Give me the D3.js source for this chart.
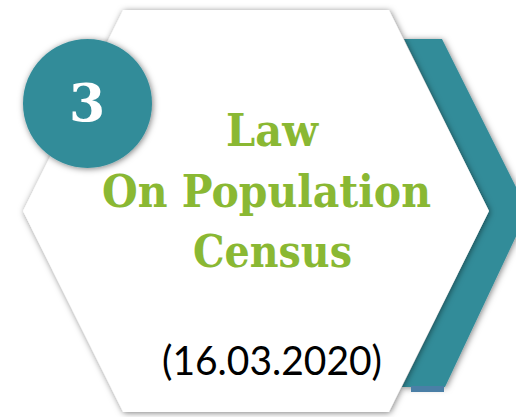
<!DOCTYPE html>
<html lang="en">
<head>
<meta charset="UTF-8" />
<title>Law On Population Census</title>
<style>
  * { margin:0; padding:0; box-sizing:border-box; }
  body { background:#fff; width:516px; height:417px; overflow:hidden; }
  svg { display:block; }
</style>
</head>
<body>
<script src="https://d3js.org/d3.v7.min.js"></script>
<script>
  // content of the card
  const stepNumber = ['3'];
  const titleLines = ['Law', 'On Population', 'Census'];
  const dateLabel = ['(16.03.2020)'];

  const W = 516, H = 417;
  const teal = '#338c99', green = '#8ab833';

  // hexagon outline in unit coords -> pixels via scales
  const x = d3.scaleLinear().domain([0, 1]).range([23, 489]);
  const y = d3.scaleLinear().domain([0, 1]).range([10, 412]);
  const hex = [[0.215,0],[0.785,0],[1,0.5],[0.785,1],[0.215,1],[0,0.5]];
  const line = d3.line().x(d => x(d[0])).y(d => y(d[1]));

  const svg = d3.select('body').append('svg').attr('width', W).attr('height', H);
  const defs = svg.append('defs');
  const sh = defs.append('filter').attr('id','sh').attr('x','-20%').attr('y','-20%').attr('width','140%').attr('height','140%');
  sh.append('feDropShadow').attr('dx',1).attr('dy',1).attr('stdDeviation',3)
    .attr('flood-color','#000').attr('flood-opacity',0.5);

  // teal chevron behind the hexagon
  const chev = [[404,39],[442,39],[528,211],[445,387],[402,387],[489,211]];
  svg.append('path').attr('d', d3.line()(chev) + 'Z')
    .attr('fill', teal).attr('filter','url(#sh)');
  svg.append('rect').attr('x',411).attr('y',386).attr('width',33).attr('height',6)
    .attr('fill','#4a7fa6');

  svg.append('path').attr('d', line(hex) + 'Z')
    .attr('fill','#fff').attr('filter','url(#sh)');

  // number badge
  svg.append('circle').attr('cx',87.5).attr('cy',103.5).attr('r',64.5)
    .attr('fill', teal).attr('filter','url(#sh)');
  svg.selectAll('text.num').data(stepNumber).join('text').attr('class','num')
    .attr('x',87).attr('y',121).attr('text-anchor','middle')
    .attr('font-family','"DejaVu Serif", serif')
    .attr('font-weight','bold').attr('font-size',52).attr('fill','#fff')
    .text(d => d);

  // title
  const tl = [
    { cx:272, y:146, w:92 },
    { cx:266.5, y:207, w:329 },
    { cx:272.5, y:267, w:159 }
  ];
  svg.selectAll('text.title').data(titleLines).join('text').attr('class','title')
    .attr('x',(d,i) => tl[i].cx - tl[i].w/2).attr('y',(d,i) => tl[i].y)
    .attr('textLength',(d,i) => tl[i].w).attr('lengthAdjust','spacingAndGlyphs')
    .attr('font-family','"DejaVu Serif", serif')
    .attr('font-weight','bold').attr('font-size',45).attr('fill', green)
    .text(d => d);

  svg.selectAll('text.date').data(dateLabel).join('text').attr('class','date')
    .attr('x',162).attr('y',375).attr('textLength',220).attr('lengthAdjust','spacingAndGlyphs')
    .attr('font-family','Lato, "Noto Sans", sans-serif')
    .attr('font-size',40).attr('fill','#000')
    .text(d => d);
</script>
</body>
</html>
